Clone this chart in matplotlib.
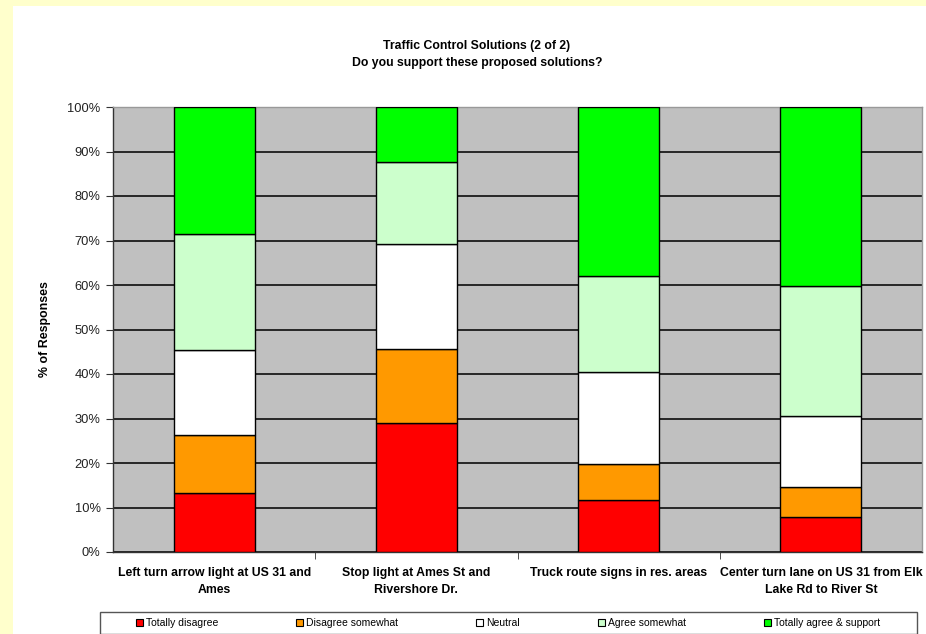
import numpy as np
import matplotlib
matplotlib.use("Agg")
import matplotlib.pyplot as plt
from matplotlib.patches import Rectangle, Patch

plt.rcParams['font.family'] = ['Liberation Sans', 'DejaVu Sans']

# data (percent of responses)
categories = ["Left turn arrow light at US 31 and\nAmes",
              "Stop light at Ames St and\nRivershore Dr.",
              "Truck route signs in res. areas",
              "Center turn lane on US 31 from Elk\nLake Rd to River St"]
series_names = ["Totally disagree", "Disagree somewhat", "Neutral",
                "Agree somewhat", "Totally agree & support"]
totally_disagree = [13.3, 29.1, 11.7, 7.8]
disagree_somewhat = [13.1, 16.5, 8.0, 6.7]
neutral = [19.0, 23.6, 20.7, 16.0]
agree_somewhat = [26.1, 18.4, 21.6, 29.2]
totally_agree = [28.5, 12.4, 38.0, 40.3]
colors = ["#FF0000", "#FF9900", "#FFFFFF", "#CCFFCC", "#00FF00"]

W, H = 926, 634
fig = plt.figure(figsize=(W / 100, H / 100), dpi=100, facecolor="#FFFFCC")
# white chart area
fig.patches.append(Rectangle((13 / W, 0), 1, (H - 6) / H, transform=fig.transFigure,
                             facecolor="white", edgecolor="none", zorder=-10))

ax = fig.add_axes([113 / W, 1 - 552 / H, (922 - 113) / W, (552 - 107) / H])
ax.set_zorder(2)
ax.set_facecolor("#C0C0C0")

x = np.arange(len(categories))
bottom = np.zeros(len(categories))
all_series = [totally_disagree, disagree_somewhat, neutral, agree_somewhat, totally_agree]
for vals, name, c in zip(all_series, series_names, colors):
    vals = np.array(vals)
    ax.bar(x, vals, 0.4, bottom=bottom, color=c, edgecolor="black", linewidth=1.0,
           label=name, zorder=3)
    bottom += vals

ax.set_xlim(-0.5, len(categories) - 0.5)
ax.set_ylim(0, 100)
ax.set_yticks(np.arange(0, 101, 10))
ax.set_yticklabels([f"{v}%" for v in range(0, 101, 10)], fontsize=9.3, color="#222222")
ax.yaxis.grid(True, color="#1a1a1a", linewidth=1.3, zorder=1)
ax.set_axisbelow(True)

ax.set_xticks(x)
ax.set_xticklabels(categories, fontsize=8.8, fontweight="bold", linespacing=1.5)
ax.tick_params(axis="x", length=0, pad=11)
ax.set_xticks(np.arange(0.5, len(categories) - 0.5, 1), minor=True)
ax.tick_params(axis="x", which="minor", length=5, color="#333333")
ax.tick_params(axis="y", length=5, color="#333333", pad=4)

ax.set_ylabel("% of Responses", fontsize=8.9, fontweight="bold", labelpad=12)

for s in ["left", "bottom"]:
    ax.spines[s].set_color("#333333")
    ax.spines[s].set_linewidth(1.0)
for s in ["top", "right"]:
    ax.spines[s].set_color("#999999")
    ax.spines[s].set_linewidth(1.0)

fig.text(477 / W, 1 - 46 / H, "Traffic Control Solutions (2 of 2)", ha="center", va="center",
         fontsize=8.8, fontweight="bold")
fig.text(477 / W, 1 - 63 / H, "Do you support these proposed solutions?", ha="center", va="center",
         fontsize=8.8, fontweight="bold")

# legend with its own frame
fig.patches.append(Rectangle((100 / W, 1 - 634 / H), (917 - 100) / W, (634 - 612) / H,
                             transform=fig.transFigure, facecolor="white",
                             edgecolor="#555555", linewidth=1.0, zorder=1))
handles = [Patch(facecolor=c, edgecolor="black", linewidth=0.8) for c in colors]
fig.legend(handles, series_names, loc="center left", ncol=5, mode="expand",
           bbox_to_anchor=(136 / W, 1 - 623 / H, (880 - 136) / W, 0),
           frameon=False, fontsize=7.5, handlelength=0.65, handleheight=0.65,
           handletextpad=0.3, borderaxespad=0, borderpad=0)

fig.savefig("out.png", dpi=100, facecolor=fig.get_facecolor())
